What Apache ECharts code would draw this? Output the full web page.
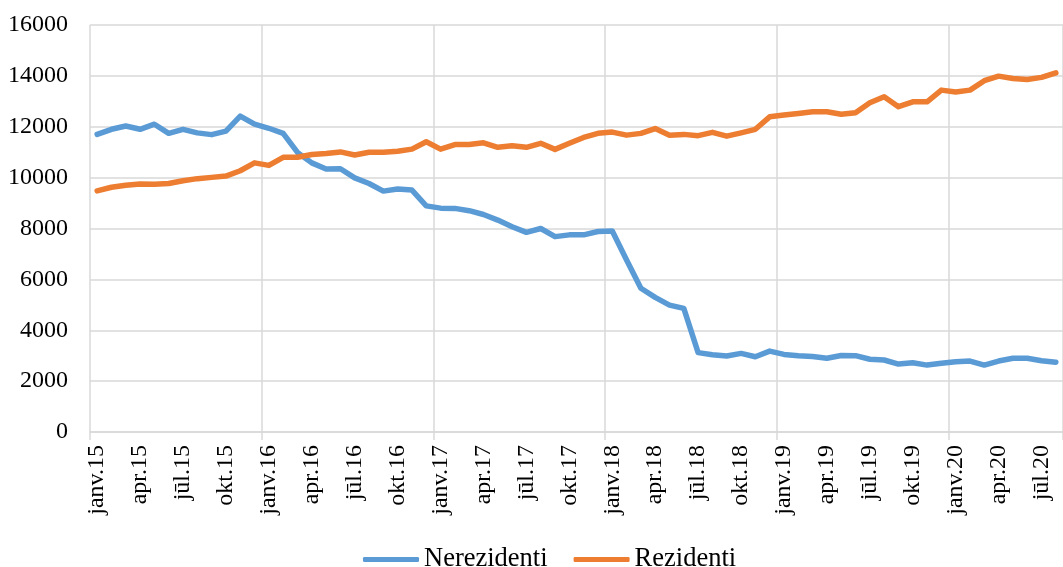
<!DOCTYPE html>
<html>
<head>
<meta charset="utf-8">
<script src="https://cdn.jsdelivr.net/npm/echarts@6/dist/echarts.min.js"></script>
<style>
html,body{margin:0;padding:0;background:#fff;}
#chart{width:1063px;height:567px;}
</style>
</head>
<body>
<div id="chart"></div>
<script>
var monthNames = ['janv.','febr.','marts.','apr.','maijs.','jūn.','jūl.','aug.','sept.','okt.','nov.','dec.'];
var years = ['15','16','17','18','19','20'];
var categories = [];
years.forEach(function (y) { monthNames.forEach(function (m) { categories.push(m + y); }); });
categories = categories.slice(0, 68);

var nerezidenti = [11700,11900,12030,11900,12100,11740,11900,11760,11690,11830,12420,12100,
  11940,11740,10990,10580,10340,10350,9990,9770,9470,9550,9510,8890,
  8800,8790,8700,8550,8330,8070,7850,8000,7680,7750,7750,7880,
  7900,6760,5650,5290,4990,4860,3120,3040,2990,3090,2960,3180,
  3050,3000,2970,2900,3010,3000,2860,2830,2670,2720,2630,2700,
  2760,2790,2630,2790,2900,2900,2800,2740];

var rezidenti = [9480,9620,9700,9750,9740,9770,9880,9960,10010,10060,10270,10580,
  10480,10800,10800,10910,10950,11010,10890,11000,11000,11040,11120,11410,
  11120,11300,11300,11370,11190,11250,11190,11350,11110,11350,11580,11740,
  11790,11670,11740,11930,11670,11700,11650,11780,11630,11760,11900,12390,
  12460,12520,12590,12590,12490,12550,12940,13180,12790,12980,12980,13440,
  13370,13440,13810,13990,13900,13860,13940,14120];

var seriesNames = ['Nerezidenti', 'Rezidenti'];
var colors = ['#5B9BD5', '#ED7D31'];

var font = 'Liberation Serif, Times New Roman, serif';
var chart = echarts.init(document.getElementById('chart'), null, {renderer: 'canvas'});
chart.setOption({
  animation: false,
  backgroundColor: '#fff',
  color: colors,
  grid: {left: 90, top: 25, bottom: 135, right: -6, containLabel: false},
  legend: {
    data: seriesNames,
    left: 358,
    top: 541,
    itemWidth: 56,
    itemHeight: 5,
    itemGap: 26,
    icon: 'roundRect',
    textStyle: {fontFamily: font, fontSize: 26.5, color: '#000'}
  },
  xAxis: {
    type: 'category',
    data: categories,
    boundaryGap: true,
    axisLine: {show: true, lineStyle: {color: '#d9d9d9', width: 1.5}},
    axisTick: {show: true, length: 8, interval: function (i) { return i % 12 === 0; }, lineStyle: {color: '#d9d9d9', width: 1.5}},
    splitLine: {show: true, interval: function (i) { return i % 12 === 0; }, lineStyle: {color: '#d9d9d9', width: 1.5}},
    axisLabel: {
      interval: function (i) { return i % 3 === 0; },
      rotate: 90,
      margin: 13,
      fontFamily: font,
      fontSize: 24,
      color: '#000'
    }
  },
  yAxis: {
    type: 'value',
    min: 0,
    max: 16000,
    interval: 2000,
    axisLine: {show: false},
    axisTick: {show: false},
    splitLine: {show: true, lineStyle: {color: '#d9d9d9', width: 1.5}},
    axisLabel: {margin: 22, fontFamily: font, fontSize: 24, color: '#000', formatter: function (v) { return String(v); }}
  },
  series: [
    {name: seriesNames[0], type: 'line', data: nerezidenti, symbol: 'none', lineStyle: {width: 5.5, cap: 'round', join: 'round'}},
    {name: seriesNames[1], type: 'line', data: rezidenti, symbol: 'none', lineStyle: {width: 5.5, cap: 'round', join: 'round'}}
  ]
});
</script>
</body>
</html>
